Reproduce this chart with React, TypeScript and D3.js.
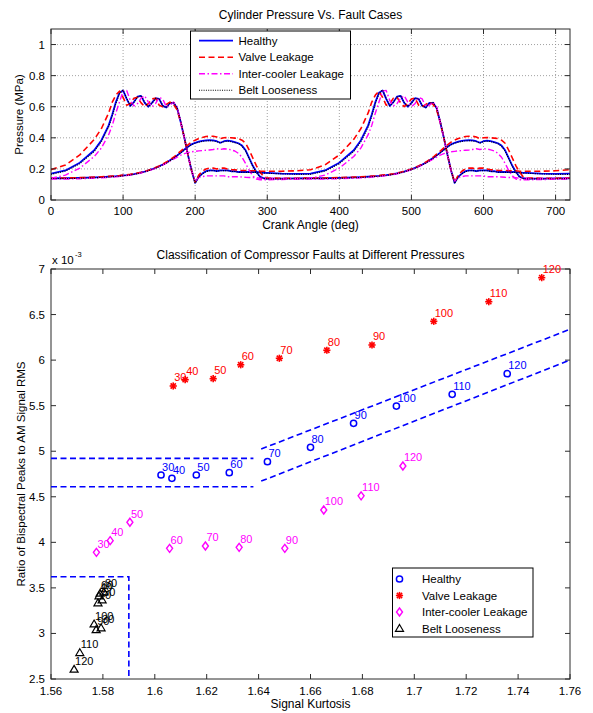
import React from "react";
import * as d3 from "d3";

// ---------- Top chart data (one crank cycle, drawn for both cycles 0-360 and 360-720) ----------
const cycleAngles = [0, 20, 40, 60, 70, 80, 85, 90, 95, 100, 105, 110, 115, 120, 125, 130, 135, 140, 145, 150, 155, 160, 165, 170, 175, 180, 185, 190, 195, 200, 205, 210, 215, 220, 225, 230, 235, 240, 245, 250, 255, 260, 265, 270, 275, 280, 285, 290, 295, 300, 320, 340, 360];
const cycleRepeats = [0, 360];

const healthyHigh = [0.170, 0.190, 0.240, 0.320, 0.385, 0.480, 0.550, 0.630, 0.690, 0.705, 0.650, 0.605, 0.630, 0.665, 0.670, 0.625, 0.600, 0.625, 0.655, 0.650, 0.605, 0.595, 0.625, 0.625, 0.590, 0.500, 0.400, 0.290, 0.190, 0.110, 0.150, 0.170, 0.185, 0.190, 0.190, 0.185, 0.190, 0.190, 0.190, 0.185, 0.185, 0.180, 0.180, 0.180, 0.180, 0.180, 0.180, 0.178, 0.175, 0.175, 0.170, 0.168, 0.170];
const valveHigh = [0.195, 0.225, 0.290, 0.390, 0.460, 0.560, 0.630, 0.675, 0.700, 0.660, 0.610, 0.620, 0.655, 0.660, 0.625, 0.600, 0.620, 0.650, 0.655, 0.610, 0.600, 0.615, 0.630, 0.615, 0.580, 0.500, 0.400, 0.290, 0.190, 0.115, 0.160, 0.185, 0.200, 0.205, 0.205, 0.200, 0.205, 0.205, 0.200, 0.195, 0.195, 0.190, 0.190, 0.190, 0.188, 0.188, 0.188, 0.185, 0.185, 0.185, 0.185, 0.188, 0.195];
const coolerHigh = [0.140, 0.160, 0.205, 0.280, 0.335, 0.420, 0.480, 0.560, 0.630, 0.700, 0.705, 0.640, 0.605, 0.620, 0.655, 0.670, 0.630, 0.600, 0.620, 0.660, 0.650, 0.600, 0.610, 0.630, 0.600, 0.500, 0.400, 0.290, 0.190, 0.120, 0.145, 0.150, 0.155, 0.155, 0.155, 0.155, 0.155, 0.155, 0.150, 0.150, 0.150, 0.150, 0.148, 0.146, 0.145, 0.145, 0.143, 0.140, 0.140, 0.140, 0.138, 0.138, 0.140];
const beltHigh = [0.165, 0.186, 0.234, 0.312, 0.376, 0.470, 0.540, 0.620, 0.685, 0.708, 0.655, 0.607, 0.628, 0.662, 0.672, 0.628, 0.601, 0.622, 0.652, 0.652, 0.608, 0.594, 0.622, 0.628, 0.592, 0.505, 0.402, 0.292, 0.192, 0.108, 0.148, 0.168, 0.183, 0.188, 0.189, 0.186, 0.188, 0.189, 0.188, 0.184, 0.183, 0.179, 0.178, 0.178, 0.178, 0.177, 0.177, 0.175, 0.173, 0.172, 0.168, 0.165, 0.165];

const healthyLow = [0.140, 0.140, 0.142, 0.145, 0.147, 0.150, 0.152, 0.153, 0.155, 0.158, 0.160, 0.163, 0.167, 0.172, 0.177, 0.183, 0.190, 0.198, 0.207, 0.217, 0.228, 0.240, 0.255, 0.270, 0.287, 0.305, 0.325, 0.343, 0.358, 0.368, 0.375, 0.380, 0.383, 0.385, 0.383, 0.378, 0.368, 0.378, 0.382, 0.378, 0.372, 0.365, 0.350, 0.320, 0.270, 0.220, 0.180, 0.150, 0.140, 0.138, 0.138, 0.139, 0.140];
const valveLow = [0.142, 0.142, 0.144, 0.147, 0.149, 0.152, 0.154, 0.155, 0.157, 0.160, 0.162, 0.165, 0.169, 0.174, 0.179, 0.185, 0.192, 0.200, 0.209, 0.219, 0.231, 0.244, 0.259, 0.275, 0.295, 0.315, 0.335, 0.355, 0.372, 0.385, 0.395, 0.402, 0.408, 0.410, 0.410, 0.405, 0.395, 0.400, 0.402, 0.400, 0.398, 0.395, 0.385, 0.365, 0.320, 0.270, 0.220, 0.180, 0.150, 0.142, 0.140, 0.140, 0.142];
const coolerLow = [0.135, 0.135, 0.137, 0.140, 0.142, 0.145, 0.147, 0.149, 0.151, 0.154, 0.157, 0.160, 0.164, 0.169, 0.174, 0.180, 0.187, 0.195, 0.204, 0.214, 0.225, 0.237, 0.250, 0.263, 0.276, 0.288, 0.298, 0.305, 0.310, 0.313, 0.316, 0.318, 0.320, 0.322, 0.325, 0.330, 0.325, 0.330, 0.328, 0.322, 0.315, 0.300, 0.275, 0.235, 0.190, 0.155, 0.135, 0.130, 0.130, 0.130, 0.132, 0.133, 0.135];
const beltLow = [0.138, 0.138, 0.140, 0.143, 0.145, 0.148, 0.150, 0.151, 0.153, 0.156, 0.158, 0.161, 0.165, 0.170, 0.175, 0.181, 0.188, 0.196, 0.205, 0.215, 0.226, 0.238, 0.252, 0.268, 0.285, 0.303, 0.322, 0.340, 0.355, 0.365, 0.372, 0.377, 0.380, 0.382, 0.380, 0.375, 0.366, 0.375, 0.379, 0.375, 0.369, 0.362, 0.346, 0.315, 0.265, 0.215, 0.176, 0.148, 0.138, 0.136, 0.136, 0.137, 0.138];

const angleTicks = [0, 100, 200, 300, 400, 500, 600, 700];
const pressureTicks = [0, 0.2, 0.4, 0.6, 0.8, 1];
const caseNames = ["Healthy", "Valve Leakage", "Inter-cooler Leakage", "Belt Looseness"];

// ---------- Bottom chart data ----------
const pressureLabels = [30, 40, 50, 60, 70, 80, 90, 100, 110, 120];
const healthyKurt = [1.6024, 1.6066, 1.6160, 1.6287, 1.6434, 1.6600, 1.6766, 1.6931, 1.7146, 1.7358];
const healthyRatio = [4.739, 4.702, 4.739, 4.764, 4.885, 5.043, 5.306, 5.496, 5.625, 5.851];
const valveKurt = [1.6071, 1.6117, 1.6225, 1.6331, 1.6480, 1.6663, 1.6837, 1.7075, 1.7287, 1.7491];
const valveRatio = [5.716, 5.785, 5.796, 5.949, 6.020, 6.108, 6.166, 6.426, 6.641, 6.905];
const coolerKurt = [1.5775, 1.5828, 1.5904, 1.6057, 1.6195, 1.6325, 1.6501, 1.6651, 1.6795, 1.6956];
const coolerRatio = [3.890, 4.018, 4.220, 3.934, 3.960, 3.945, 3.934, 4.355, 4.510, 4.838];
const beltKurt = [1.5793, 1.5785, 1.5797, 1.5789, 1.5781, 1.5804, 1.5774, 1.5766, 1.5711, 1.5689];
const beltRatio = [3.060, 3.411, 3.367, 3.440, 3.334, 3.455, 3.040, 3.103, 2.788, 2.606];

const kurtTicks = [1.56, 1.58, 1.6, 1.62, 1.64, 1.66, 1.68, 1.7, 1.72, 1.74, 1.76];
const ratioTicks = [2.5, 3, 3.5, 4, 4.5, 5, 5.5, 6, 6.5, 7];

// Healthy-region boundary lines (dashed) and belt-looseness region
const healthyBandUpper = [[1.56, 4.922], [1.638, 4.922]];
const healthyBandLower = [[1.56, 4.61], [1.638, 4.61]];
const healthyDiagUpper = [[1.641, 5.024], [1.76, 6.338]];
const healthyDiagLower = [[1.641, 4.672], [1.76, 6.0]];
const beltRegion = [[1.56, 3.622], [1.59, 3.622], [1.59, 2.5]];

const FONT = "'Liberation Sans', Arial, Helvetica, sans-serif";
const AXIS = "#2b2b2b";

const seriesStyle = [
  { color: "#0000ff", width: 1.8, dash: "none" },
  { color: "#ff0000", width: 1.6, dash: "6,3.5" },
  { color: "#ff00ff", width: 1.4, dash: "6,2.5,1.5,2.5" },
  { color: "#000000", width: 1.1, dash: "1,1.3" },
];

function Marker({ kind, x, y }: { kind: number; x: number; y: number }) {
  if (kind === 0) return <circle cx={x} cy={y} r={3.1} fill="none" stroke="#0000ff" strokeWidth={1.5} />;
  if (kind === 1) {
    const a = 3.6, b = 2.6;
    return (
      <g stroke="#ff0000" strokeWidth={1.6}>
        <line x1={x - a} y1={y} x2={x + a} y2={y} />
        <line x1={x} y1={y - a} x2={x} y2={y + a} />
        <line x1={x - b} y1={y - b} x2={x + b} y2={y + b} />
        <line x1={x - b} y1={y + b} x2={x + b} y2={y - b} />
      </g>
    );
  }
  if (kind === 2)
    return <path d={`M${x},${y - 4}L${x + 3},${y}L${x},${y + 4}L${x - 3},${y}Z`} fill="none" stroke="#ff00ff" strokeWidth={1.4} />;
  return <path d={`M${x},${y - 4}L${x + 4},${y + 2.8}L${x - 4},${y + 2.8}Z`} fill="none" stroke="#000" strokeWidth={1.2} />;
}

export default function App() {
  const W = 593, H = 713;
  const L = 51, R = 570;

  // top chart
  const tTop = 29, tBot = 200;
  const xA = d3.scaleLinear().domain([0, 720]).range([L, R]);
  const yP = d3.scaleLinear().domain([0, 1.1]).range([tBot, tTop]);

  const topSeries = [
    [healthyHigh, healthyLow],
    [valveHigh, valveLow],
    [coolerHigh, coolerLow],
    [beltHigh, beltLow],
  ];

  const line = d3
    .line<[number, number]>()
    .x((d) => xA(d[0]))
    .y((d) => yP(d[1]));

  const buildPts = (vals: number[]) => {
    const pts: [number, number][] = [];
    cycleRepeats.forEach((off, ci) => {
      cycleAngles.forEach((a, i) => {
        if (ci > 0 && i === 0) return;
        pts.push([a + off, vals[i]]);
      });
    });
    return pts;
  };

  // bottom chart
  const bTop = 269, bBot = 679;
  const xK = d3.scaleLinear().domain([1.56, 1.76]).range([L, R]);
  const yR = d3.scaleLinear().domain([2.5, 7]).range([bBot, bTop]);
  const kLine = d3
    .line<number[]>()
    .x((d) => xK(d[0]))
    .y((d) => yR(d[1]));

  const scatter = [
    { xs: healthyKurt, ys: healthyRatio, color: "#0000ff" },
    { xs: valveKurt, ys: valveRatio, color: "#ff0000" },
    { xs: coolerKurt, ys: coolerRatio, color: "#ff00ff" },
    { xs: beltKurt, ys: beltRatio, color: "#000000" },
  ];

  const tickLen = 5;

  return (
    <svg width={W} height={H} style={{ position: "absolute", left: 0, top: 0, background: "#fff" }} fontFamily={FONT}>
      <rect x={0} y={0} width={W} height={H} fill="#fff" />

      {/* ================= TOP CHART ================= */}
      <text x={(L + R) / 2} y={19} textAnchor="middle" fontSize={12}>Cylinder Pressure Vs. Fault Cases</text>
      {/* grid */}
      <g stroke="#8a8a8a" strokeWidth={0.8} strokeDasharray="1,2">
        {angleTicks.filter((t) => t > 0).map((t) => (
          <line key={"gx" + t} x1={xA(t)} x2={xA(t)} y1={tTop} y2={tBot} />
        ))}
        {pressureTicks.filter((t) => t > 0).map((t) => (
          <line key={"gy" + t} x1={L} x2={R} y1={yP(t)} y2={yP(t)} />
        ))}
      </g>
      <defs>
        <clipPath id="topclip">
          <rect x={L} y={tTop} width={R - L} height={tBot - tTop} />
        </clipPath>
      </defs>
      <g clipPath="url(#topclip)" fill="none" strokeLinejoin="round">
        {topSeries.map((pair, si) =>
          pair.map((vals, k) => (
            <path
              key={si + "-" + k}
              d={line(buildPts(vals)) || ""}
              stroke={seriesStyle[si].color}
              strokeWidth={seriesStyle[si].width}
              strokeDasharray={seriesStyle[si].dash}
            />
          ))
        )}
      </g>
      {/* axes box */}
      <rect x={L} y={tTop} width={R - L} height={tBot - tTop} fill="none" stroke={AXIS} strokeWidth={1} />
      <g stroke={AXIS} strokeWidth={1}>
        {angleTicks.map((t) => (
          <g key={"tx" + t}>
            <line x1={xA(t)} x2={xA(t)} y1={tBot} y2={tBot - tickLen} />
            <line x1={xA(t)} x2={xA(t)} y1={tTop} y2={tTop + tickLen} />
          </g>
        ))}
        {pressureTicks.map((t) => (
          <g key={"ty" + t}>
            <line x1={L} x2={L + tickLen} y1={yP(t)} y2={yP(t)} />
            <line x1={R} x2={R - tickLen} y1={yP(t)} y2={yP(t)} />
          </g>
        ))}
      </g>
      <g fontSize={11.5} fill="#000">
        {angleTicks.map((t) => (
          <text key={"lx" + t} x={xA(t)} y={215} textAnchor="middle">{t}</text>
        ))}
        {pressureTicks.map((t) => (
          <text key={"ly" + t} x={L - 6} y={yP(t)} textAnchor="end" dominantBaseline="central">{t}</text>
        ))}
      </g>
      <text x={(L + R) / 2} y={229} textAnchor="middle" fontSize={12}>Crank Angle (deg)</text>
      <text transform={`translate(23,${(tTop + tBot) / 2}) rotate(-90)`} textAnchor="middle" fontSize={11.5}>Pressure (MPa)</text>

      {/* top legend */}
      <rect x={190.5} y={31} width={160} height={68} fill="#fff" stroke="#000" strokeWidth={1} />
      {caseNames.map((n, i) => {
        const yy = 40.7 + i * 16.5;
        return (
          <g key={"tl" + i}>
            <line x1={199} x2={233} y1={yy} y2={yy} stroke={seriesStyle[i].color} strokeWidth={seriesStyle[i].width} strokeDasharray={seriesStyle[i].dash} />
            <text x={238.5} y={yy} dominantBaseline="central" fontSize={11.5}>{n}</text>
          </g>
        );
      })}

      {/* ================= BOTTOM CHART ================= */}
      <text x={(L + R) / 2} y={259} textAnchor="middle" fontSize={12}>Classification of Compressor Faults at Different Pressures</text>
      <text x={52} y={264} fontSize={11.5}>x 10</text>
      <text x={75} y={257} fontSize={7.5}>-3</text>

      <rect x={L} y={bTop} width={R - L} height={bBot - bTop} fill="none" stroke={AXIS} strokeWidth={1} />
      <g stroke={AXIS} strokeWidth={1}>
        {kurtTicks.map((t) => (
          <g key={"kx" + t}>
            <line x1={xK(t)} x2={xK(t)} y1={bBot} y2={bBot - tickLen} />
            <line x1={xK(t)} x2={xK(t)} y1={bTop} y2={bTop + tickLen} />
          </g>
        ))}
        {ratioTicks.map((t) => (
          <g key={"ry" + t}>
            <line x1={L} x2={L + tickLen} y1={yR(t)} y2={yR(t)} />
            <line x1={R} x2={R - tickLen} y1={yR(t)} y2={yR(t)} />
          </g>
        ))}
      </g>
      <g fontSize={11.5} fill="#000">
        {kurtTicks.map((t) => (
          <text key={"klx" + t} x={xK(t)} y={695} textAnchor="middle">{t}</text>
        ))}
        {ratioTicks.map((t) => (
          <text key={"rly" + t} x={L - 6} y={yR(t)} textAnchor="end" dominantBaseline="central">{t}</text>
        ))}
      </g>
      <text x={(L + R) / 2} y={708} textAnchor="middle" fontSize={12}>Signal Kurtosis</text>
      <text transform={`translate(25,${(bTop + bBot) / 2}) rotate(-90)`} textAnchor="middle" fontSize={11.5}>Ratio of Bispectral Peaks to AM Signal RMS</text>

      {/* dashed region lines */}
      <g fill="none" stroke="#0000ff" strokeWidth={1.6} strokeDasharray="6,3.5">
        {[healthyBandUpper, healthyBandLower, healthyDiagUpper, healthyDiagLower, beltRegion].map((seg, i) => (
          <path key={"seg" + i} d={kLine(seg) || ""} />
        ))}
      </g>

      {/* scatter points + labels */}
      {scatter.map((s, si) => (
        <g key={"sc" + si}>
          {s.xs.map((xv, i) => {
            const cx = xK(xv), cy = yR(s.ys[i]);
            return (
              <g key={i}>
                <Marker kind={si} x={cx} y={cy} />
                <text x={cx + 1} y={cy - 4.5} fontSize={11} fill={s.color}>{pressureLabels[i]}</text>
              </g>
            );
          })}
        </g>
      ))}

      {/* bottom legend */}
      <rect x={392.5} y={568} width={140.5} height={69} fill="#fff" stroke="#000" strokeWidth={1} />
      {caseNames.map((n, i) => {
        const yy = 579 + i * 16.5;
        return (
          <g key={"bl" + i}>
            <Marker kind={i} x={399.5} y={yy} />
            <text x={422} y={yy} dominantBaseline="central" fontSize={11.5}>{n}</text>
          </g>
        );
      })}
    </svg>
  );
}
